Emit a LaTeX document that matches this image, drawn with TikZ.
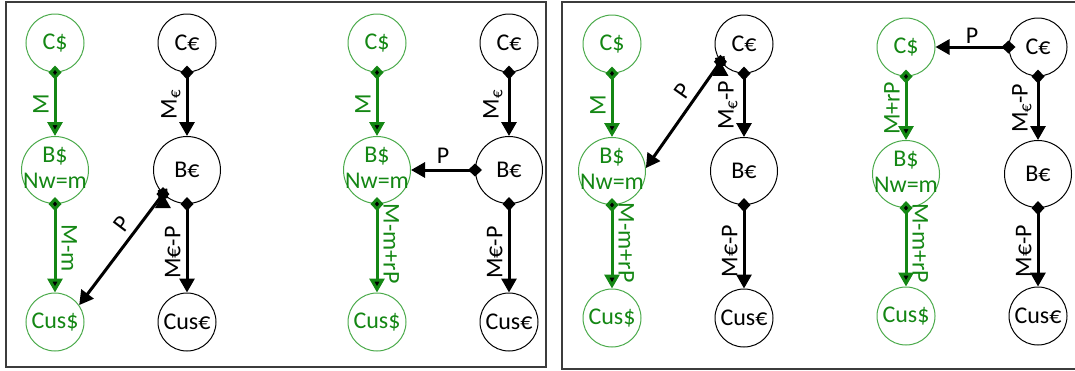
\documentclass[tikz,border=0pt]{standalone}
\usepackage{fontspec}
\setmainfont{Carlito}
\usepackage{tikz}
\usetikzlibrary{matrix}
\usetikzlibrary{arrows.meta}

\definecolor{usdgreen}{RGB}{20,135,20}
\definecolor{usdring}{RGB}{75,170,75}
\definecolor{framegray}{RGB}{60,60,60}

\newcommand{\usdbank}{\begin{tabular}{@{}c@{}}\makebox[0pt]{B\$}\\\makebox[0pt]{Nw=m}\end{tabular}}

\tikzset{
  usd/.style={circle, draw=usdring, text=usdgreen},
  eur/.style={circle, draw=black},
  big/.style={minimum size=67pt},
  panel/.style={matrix of nodes, row sep={127pt,between origins},
    column sep={132pt,between origins},
    nodes={anchor=center, minimum size=58pt, inner sep=0pt, line width=1pt}},
  flow/.style={{Diamond[length=14pt,width=13pt]}-{Triangle[length=14pt,width=15pt]},
    line width=3pt, shorten <=-7pt},
  usdflow/.style={flow, draw=usdgreen, text=usdgreen},
  eurflow/.style={flow, draw=black},
  lbl/.style={inner sep=5pt},
  lside/.style={lbl, rotate=90, anchor=south},
  rside/.style={lbl, rotate=-90, anchor=south},
}

\begin{document}
\begin{tikzpicture}[x=1pt, y=-1pt, font=\fontsize{24}{26}\selectfont]
  \useasboundingbox (0,0) rectangle (1075,370);
  \draw[framegray, line width=1.3pt] (6,2) rectangle (546,367);
  \draw[framegray, line width=1.3pt] (562,2) rectangle (1090,369);

  \matrix (p1) [panel, matrix anchor=p1-1-1.center] at (55,43)
  {
    |[usd]| C\$ & |[eur]| C€ \\
    |[usd,big]| \usdbank & |[eur,big]| B€ \\[25pt]
    |[usd]| Cus\$ & |[eur]| Cus€ \\
  };
  \path[usdflow]
    (p1-1-1) edge node[lside] {M} (p1-2-1)
    (p1-2-1) edge node[rside] {M-m} (p1-3-1);
  \path[eurflow]
    (p1-1-2) edge node[lside] {M\textsubscript{€}} (p1-2-2)
    (p1-2-2) edge node[lside, pos=0.55] {M€-P} (p1-3-2)
    (p1-2-2.225) edge node[lbl, sloped, above, pos=0.35] {P} (p1-3-1.35);

  \matrix (p2) [panel, matrix anchor=p2-1-1.center] at (377,43)
  {
    |[usd]| C\$ & |[eur]| C€ \\
    |[usd,big]| \usdbank & |[eur,big]| B€ \\[25pt]
    |[usd]| Cus\$ & |[eur]| Cus€ \\
  };
  \path[usdflow]
    (p2-1-1) edge node[lside] {M} (p2-2-1)
    (p2-2-1) edge node[rside, pos=0.45] {M-m+rP} (p2-3-1);
  \path[eurflow]
    (p2-1-2) edge node[lside] {M\textsubscript{€}} (p2-2-2)
    (p2-2-2) edge node[lside, pos=0.55] {M€-P} (p2-3-2)
    (p2-2-2) edge node[lbl, above] {P} (p2-2-1);

  \matrix (p3) [panel, matrix anchor=p3-1-1.center] at (612,44)
  {
    |[usd]| C\$ & |[eur]| C€ \\
    |[usd,big]| \usdbank & |[eur,big]| B€ \\[20pt]
    |[usd]| Cus\$ & |[eur]| Cus€ \\
  };
  \path[usdflow]
    (p3-1-1) edge node[lside] {M} (p3-2-1)
    (p3-2-1) edge node[rside, pos=0.45] {M-m+rP} (p3-3-1);
  \path[eurflow]
    (p3-1-2) edge node[lside] {M\textsubscript{€}-P} (p3-2-2)
    (p3-2-2) edge node[lside, pos=0.55] {M€-P} (p3-3-2)
    (p3-1-2.217) edge node[lbl, sloped, above, pos=0.35] {P} (p3-2-1.5);

  \matrix (p4) [panel, matrix anchor=p4-1-1.center] at (906,47)
  {
    |[usd]| C\$ & |[eur]| C€ \\
    |[usd,big]| \usdbank & |[eur,big]| B€ \\[15pt]
    |[usd]| Cus\$ & |[eur]| Cus€ \\
  };
  \path[usdflow]
    (p4-1-1) edge node[lside] {M+rP} (p4-2-1)
    (p4-2-1) edge node[rside, pos=0.45] {M-m+rP} (p4-3-1);
  \path[eurflow]
    (p4-1-2) edge node[lside] {M\textsubscript{€}-P} (p4-2-2)
    (p4-2-2) edge node[lside, pos=0.55] {M€-P} (p4-3-2)
    (p4-1-2) edge node[lbl, above, inner sep=2pt] {P} (p4-1-1);
\end{tikzpicture}
\end{document}
